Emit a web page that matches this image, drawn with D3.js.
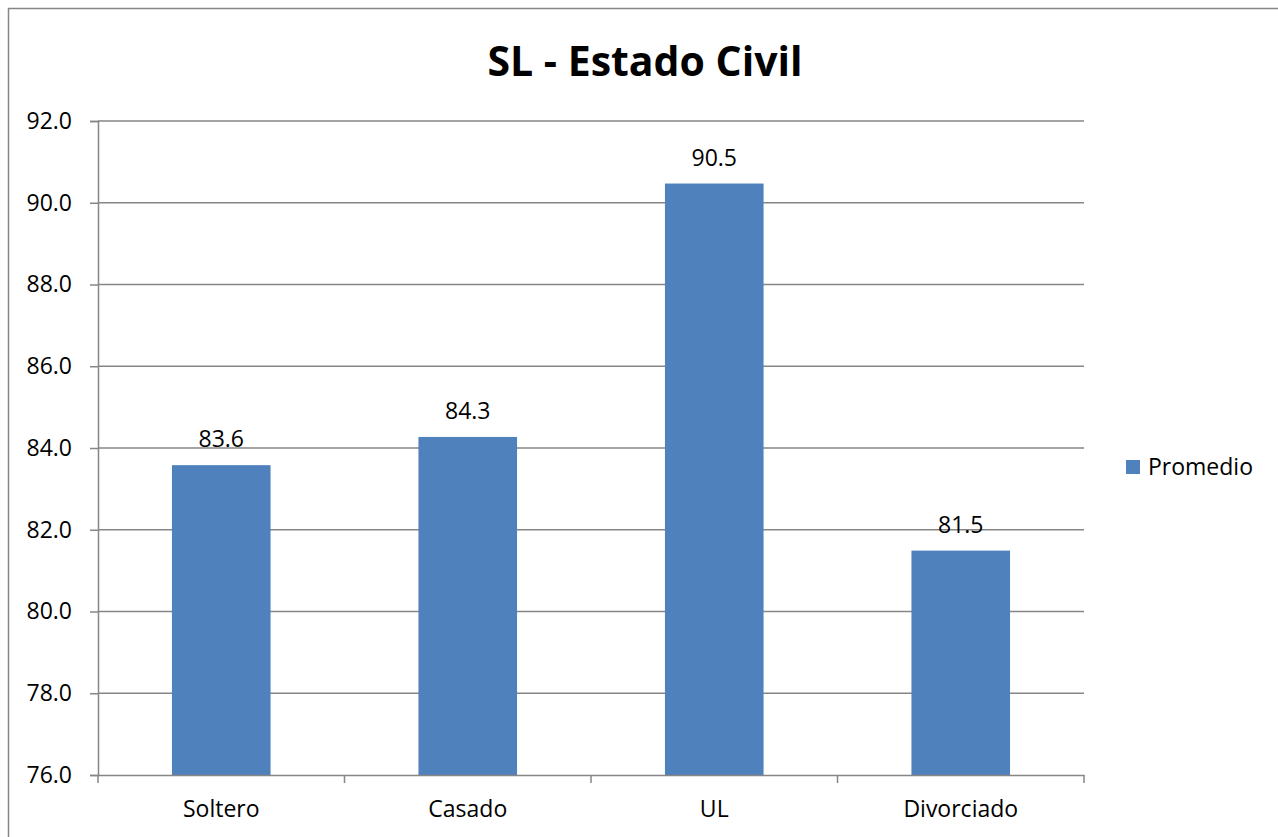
<!DOCTYPE html>
<html lang="es">
<head>
<meta charset="utf-8">
<title>SL - Estado Civil</title>
<script src="https://d3js.org/d3.v7.min.js"></script>
<style>
    body { margin: 0; background: white; }
    svg { display: block; }
    text { font-family: "Open Sans", Lato, sans-serif; fill: #000; }
</style>
</head>
<body>
<div id="chart"></div>
<script>
// data
var categories = ["Soltero", "Casado", "UL", "Divorciado"];
var promedio = [83.58, 84.27, 90.47, 81.49];
var yTicks = [76, 78, 80, 82, 84, 86, 88, 90, 92];
var seriesName = "Promedio";
var chartTitle = "SL - Estado Civil";

var width = 1278, height = 837;
var plot = { left: 98, right: 1084, top: 121, bottom: 775 };
var fontSize = "23px";

var svg = d3.select("#chart").append("svg")
    .attr("width", width)
    .attr("height", height);

// outer chart border
svg.append("rect")
    .attr("x", 8.5).attr("y", 8.5)
    .attr("width", width + 10).attr("height", height + 10)
    .attr("fill", "white")
    .attr("stroke", "#868686")
    .attr("stroke-width", 1.5);

var x = d3.scaleBand()
    .domain(categories)
    .range([plot.left, plot.right])
    .paddingInner(0.6)
    .paddingOuter(0.3);

var xOuter = d3.scaleBand()
    .domain(categories)
    .range([plot.left, plot.right]);

var y = d3.scaleLinear()
    .domain([76, 92])
    .range([plot.bottom, plot.top]);

// y axis
var yAxis = svg.append("g")
    .attr("transform", "translate(" + plot.left + ",0)")
    .call(d3.axisLeft(y)
        .tickValues(yTicks)
        .tickFormat(d3.format(".1f"))
        .tickSize(8)
        .tickPadding(18));
yAxis.select(".domain").attr("stroke", "#868686").attr("stroke-width", 1.5);
yAxis.selectAll(".tick line").attr("stroke", "#868686").attr("stroke-width", 1.5);
yAxis.selectAll(".tick text").style("font-size", fontSize).attr("fill", "#000");

// gridlines
svg.append("g")
    .selectAll("line")
    .data(yTicks.slice(1))
    .enter()
    .append("line")
    .attr("x1", plot.left).attr("x2", plot.right)
    .attr("y1", d => y(d)).attr("y2", d => y(d))
    .attr("stroke", "#868686")
    .attr("stroke-width", 1.5);

// bars
svg.append("g")
    .selectAll("rect")
    .data(promedio)
    .enter()
    .append("rect")
    .attr("x", (d, i) => x(categories[i]))
    .attr("y", d => y(d))
    .attr("width", x.bandwidth())
    .attr("height", d => plot.bottom - y(d))
    .attr("fill", "#4F81BD");

// value labels
svg.append("g")
    .selectAll("text")
    .data(promedio)
    .enter()
    .append("text")
    .attr("x", (d, i) => x(categories[i]) + x.bandwidth() / 2)
    .attr("y", d => y(d) - 18)
    .attr("text-anchor", "middle")
    .style("font-size", fontSize)
    .text(d => d3.format(".1f")(d));

// x axis
var xAxis = svg.append("g")
    .attr("transform", "translate(0," + plot.bottom + ")")
    .call(d3.axisBottom(xOuter).tickSize(0).tickPadding(26));
xAxis.select(".domain").attr("stroke", "#868686").attr("stroke-width", 1.5);
xAxis.selectAll(".tick text").style("font-size", fontSize).attr("fill", "#000");

// x tick marks at category boundaries
var bounds = categories.map(c => xOuter(c)).concat([plot.right]);
svg.append("g")
    .selectAll("line")
    .data(bounds)
    .enter()
    .append("line")
    .attr("x1", d => d).attr("x2", d => d)
    .attr("y1", plot.bottom).attr("y2", plot.bottom + 8)
    .attr("stroke", "#868686")
    .attr("stroke-width", 1.5);

// title
svg.append("text")
    .attr("x", 645)
    .attr("y", 76)
    .attr("text-anchor", "middle")
    .style("font-size", "41px")
    .style("font-weight", "bold")
    .text(chartTitle);

// legend
var legend = svg.append("g").attr("transform", "translate(1126,460)");
legend.append("rect")
    .attr("width", 14).attr("height", 14)
    .attr("fill", "#4F81BD");
legend.append("text")
    .attr("x", 22).attr("y", 15)
    .style("font-size", fontSize)
    .text(seriesName);
</script>
</body>
</html>
